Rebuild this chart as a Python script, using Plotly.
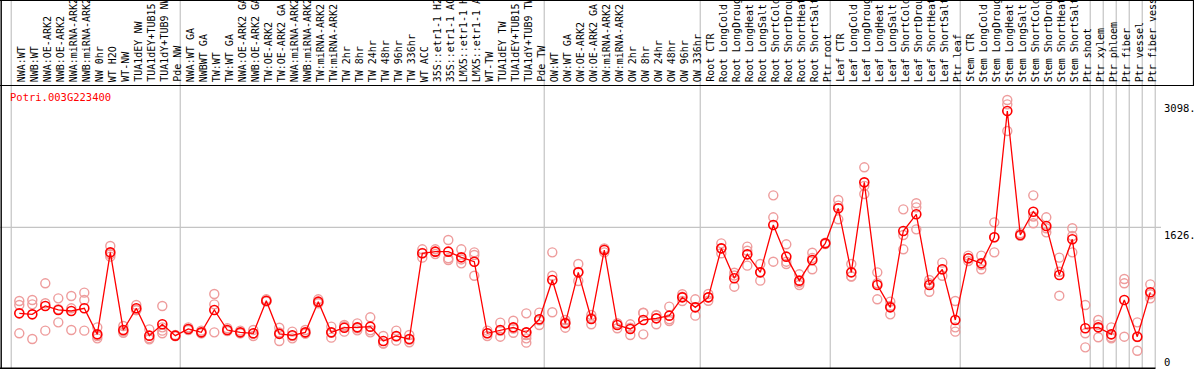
import plotly.graph_objects as go

W, H = 1194, 370

gene = "Potri.003G223400"

categories = [
    "NWA:WT", "NWB:WT", "NWA:OE-ARK2", "NWB:OE-ARK2", "NWA:miRNA-ARK2", "NWB:miRNA-ARK2",
    "NW 0hr", "WT H2O", "WT-NW", "TUA1dEY NW", "TUA1dEY+TUB15 NW", "TUA1dY+TUB9 NW", "Pde NW",
    "NWA:WT GA", "NWBWT GA", "TW:WT", "TW:WT GA", "NWA:OE-ARK2 GA", "NWB:OE-ARK2 GA",
    "TW:OE-ARK2", "TW:OE-ARK2 GA", "NWA:miRNA-ARK2", "NWB:miRNA-ARK2", "TW:miRNA-ARK2",
    "TW:miRNA-ARK2", "TW 2hr", "TW 8hr", "TW 24hr", "TW 48hr", "TW 96hr", "TW 336hr",
    "WT ACC", "35S::etr1-1 H2O", "35S::etr1-1 ACC", "LMX5::etr1-1 H2O", "LMX5::etr1-1 ACC",
    "WT-TW", "TUA1dEY TW", "TUA1dEY+TUB15 TW", "TUA1dY+TUB9 TW", "Pde TW",
    "OW:WT", "OW:WT GA", "OW:OE-ARK2", "OW:OE-ARK2 GA", "OW:miRNA-ARK2", "OW:miRNA-ARK2",
    "OW 2hr", "OW 8hr", "OW 24hr", "OW 48hr", "OW 96hr", "OW 336hr",
    "Root CTR", "Root LongCold", "Root LongDrought", "Root LongHeat", "Root LongSalt",
    "Root ShortCold", "Root ShortDrought", "Root ShortHeat", "Root ShortSalt", "Ptr root",
    "Leaf CTR", "Leaf LongCold", "Leaf LongDrought", "Leaf LongHeat", "Leaf LongSalt",
    "Leaf ShortCold", "Leaf ShortDrought", "Leaf ShortHeat", "Leaf ShortSalt", "Ptr leaf",
    "Stem CTR", "Stem LongCold", "Stem LongDrought", "Stem LongHeat", "Stem LongSalt",
    "Stem ShortCold", "Stem ShortDrought", "Stem ShortHeat", "Stem ShortSalt", "Ptr shoot",
    "Ptr xylem", "Ptr phloem", "Ptr fiber", "Ptr vessel", "Ptr fiber vessel",
]

means = [
    632, 620, 717, 671, 659, 690, 389, 1337, 439, 690, 374, 505, 374,
    451, 412, 671, 439, 412, 401, 778, 395, 378, 412, 767, 412, 466, 470, 478, 312, 370, 335,
    1326, 1345, 1345, 1279, 1229, 401, 439, 470, 412, 563,
    1017, 516, 1106, 566, 1364, 497, 451, 555, 574, 605, 817, 701,
    817, 1383, 1037, 1314, 1106, 1653, 1287, 1010, 1249, 1441,
    1846, 1106, 2146, 960, 701, 1584, 1777, 960, 1141, 555,
    1268, 1210, 1511, 2971, 1538, 1807, 1642, 1075, 1488, 459,
    470, 389, 786, 362, 875,
]

replicates = [
    [775, 728, 401], [786, 736, 335], [979, 748, 432], [805, 528, 680], [832, 690, 439],
    [871, 786, 432], [470, 343, 370], [1410, 1287, 1315], [486, 408, 425], [728, 671, 670],
    [447, 331, 345], [717, 470, 432, 401], [382, 370, 370],
    [470, 439, 451], [432, 405, 400], [856, 736, 412], [459, 432, 428], [432, 401, 405],
    [439, 370, 395], [794, 770, 770], [466, 312, 410], [420, 343, 370], [439, 400, 398],
    [794, 760, 748], [478, 351, 407], [497, 420, 480], [516, 459, 435], [586, 412, 436],
    [370, 285, 282], [432, 316, 362], [382, 297, 326],
    [1372, 1276, 1330], [1372, 1318, 1345], [1480, 1268, 1249], [1372, 1210, 1255],
    [1337, 1306, 1067], [432, 370, 401], [524, 362, 431], [547, 408, 455],
    [632, 412, 343, 293, 380], [640, 497, 552],
    [1337, 1067, 644], [555, 466, 528], [1202, 1006, 1110], [613, 505, 580],
    [1383, 1337, 1372], [516, 459, 516], [505, 382, 466], [640, 389, 636],
    [613, 505, 605], [709, 543, 563], [852, 775, 824], [794, 605, 704],
    [856, 778, 817], [1441, 1326, 1382], [1102, 940, 1069], [1403, 1183, 1356],
    [1202, 1010, 1106], [1996, 1742, 1229], [1430, 1202, 1229], [1083, 960, 987],
    [1333, 1141, 1273], [1449, 1441, 1433],
    [1942, 1719, 1877], [1202, 1056, 1060], [2320, 2012, 2106], [1106, 794, 980],
    [767, 620, 716], [1834, 1538, 1372], [1904, 1857, 1603], [1017, 882, 980],
    [1218, 1067, 1138], [775, 470, 420],
    [1299, 1268, 1237], [1299, 1141, 1190], [1684, 1337, 1512], [3098, 3048, 2740],
    [1557, 1530, 1527], [1996, 1673, 1752], [1742, 1568, 1616], [1276, 836, 1113],
    [1615, 1526, 1337], [728, 401, 239],
    [555, 355, 500], [470, 343, 355], [1029, 979, 362], [528, 200, 358], [967, 805, 853],
]

group_starts = [0, 13, 41, 53, 63, 73, 83, 84, 85, 86, 87, 88]
axis_labels = [3098, 1626, 0]

n = len(categories)
xs = list(range(n))

rep_x, rep_y = [], []
for i, vals in enumerate(replicates):
    for v in vals:
        rep_x.append(i)
        rep_y.append(v)

# pixel geometry helpers
x_first, step = 19.3, 13.0
xr0 = -x_first / step
xr1 = (W - x_first) / step
y_bottom_px, y_top_px = 368.0, 86.0
px_per_unit = 0.0865
y_max = (y_bottom_px - y_top_px) / px_per_unit


def py(p):
    return 1 - p / H


def pxp(p):
    return p / W


fig = go.Figure()
fig.add_trace(go.Scatter(
    x=rep_x, y=rep_y, mode="markers",
    marker=dict(symbol="circle-open", size=9, color="#ee9c9c", line=dict(width=1.4, color="#ee9c9c")),
    hoverinfo="skip", showlegend=False, cliponaxis=False,
))
fig.add_trace(go.Scatter(
    x=xs, y=means, mode="lines+markers",
    line=dict(color="#ff0000", width=1.3),
    marker=dict(symbol="circle-open", size=9, color="#ff0000", line=dict(width=1.6, color="#ff0000")),
    showlegend=False, cliponaxis=False,
))

shapes = []
grey = "#c4c4c4"
for g in group_starts:
    shapes.append(dict(type="line", xref="x", yref="paper", x0=g - 0.62, x1=g - 0.62,
                       y0=py(368), y1=1, line=dict(color=grey, width=1.2), layer="below"))
shapes.append(dict(type="line", xref="paper", yref="y", x0=0, x1=pxp(1161), y0=axis_labels[1], y1=axis_labels[1],
                   line=dict(color=grey, width=1.2), layer="below"))
black = "#000000"
shapes += [
    dict(type="line", xref="paper", yref="paper", x0=0, x1=pxp(1193.5), y0=py(0.5), y1=py(0.5), line=dict(color=black, width=1.2)),
    dict(type="line", xref="paper", yref="paper", x0=0, x1=1, y0=py(85.5), y1=py(85.5), line=dict(color=black, width=1.2)),
    dict(type="line", xref="paper", yref="paper", x0=pxp(1.2), x1=pxp(1.2), y0=py(368.5), y1=1, line=dict(color=black, width=1.4)),
    dict(type="line", xref="paper", yref="paper", x0=pxp(1193.5), x1=pxp(1193.5), y0=py(85.5), y1=1, line=dict(color=black, width=1.2)),
    dict(type="line", xref="paper", yref="paper", x0=0, x1=pxp(1155.5), y0=py(368.3), y1=py(368.3), line=dict(color=black, width=1.5)),
]

font_mono = "DejaVu Sans Mono"
annotations = []
for i, lab in enumerate(categories):
    annotations.append(dict(
        text=lab, xref="x", yref="paper", x=i + 0.15, y=py(83.0),
        xanchor="center", yanchor="bottom", textangle=-90, showarrow=False,
        font=dict(family=font_mono, size=10, color="black"), borderpad=0,
    ))
annotations.append(dict(
    text=gene, xref="paper", yref="paper", x=pxp(8.5), y=py(97.5), xanchor="left", yanchor="middle",
    showarrow=False, font=dict(family=font_mono, size=10.5, color="#ff0000"), borderpad=0,
))
for v in axis_labels[:2]:
    annotations.append(dict(
        text=f"{v}.", xref="paper", yref="y", x=pxp(1163), y=v, xanchor="left", yanchor="top",
        showarrow=False, font=dict(family=font_mono, size=10.5, color="black"), borderpad=0, yshift=-1,
    ))
annotations.append(dict(
    text=f"{axis_labels[2]}", xref="paper", yref="paper", x=pxp(1163), y=py(361.5), xanchor="left", yanchor="middle",
    showarrow=False, font=dict(family=font_mono, size=10.5, color="black"), borderpad=0,
))

fig.update_layout(
    width=W, height=H, margin=dict(l=0, r=0, t=0, b=0),
    paper_bgcolor="white", plot_bgcolor="white",
    xaxis=dict(range=[xr0, xr1], domain=[0, 1], visible=False, fixedrange=True),
    yaxis=dict(range=[0, y_max], domain=[py(y_bottom_px), py(y_top_px)], visible=False, fixedrange=True),
    shapes=shapes, annotations=annotations, showlegend=False,
)

fig.write_html(
    "out.html",
    config={"displayModeBar": False},
    post_script="document.body.style.margin='0px';document.body.style.overflow='hidden';",
)
